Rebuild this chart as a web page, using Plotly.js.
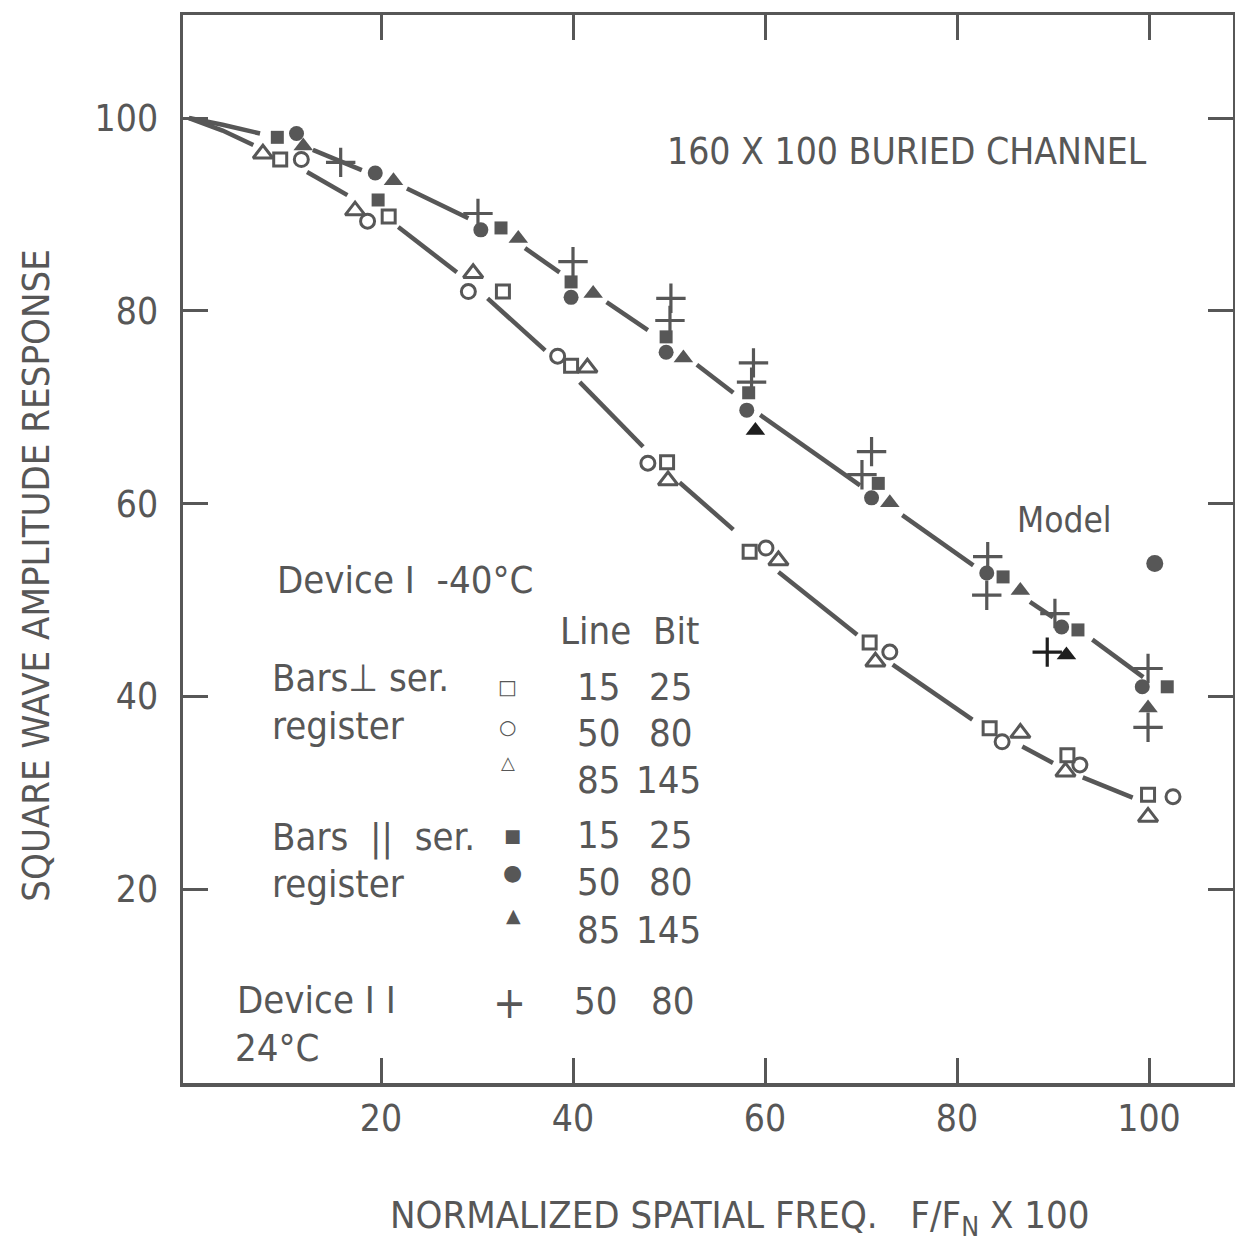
<!DOCTYPE html>
<html>
<head>
<meta charset="utf-8">
<script src="https://cdn.plot.ly/plotly-3.0.1.min.js"></script>
<style>html,body{margin:0;padding:0;background:#fff;}#chart{width:1235px;height:1254px;}</style>
</head>
<body>
<div id="chart"></div>
<script>
// ---- data ----
const xTicks = [20, 40, 60, 80, 100];
const yTicks = [20, 40, 60, 80, 100];

// Bars perpendicular to serial register (open symbols)
const openSquareX = [9.5, 20.8, 32.7, 39.8, 49.8, 58.4, 70.9, 83.4, 91.5, 99.9];
const openSquareY = [95.7, 89.8, 82.0, 74.3, 64.3, 55.0, 45.6, 36.7, 33.9, 29.8];
const openCircleX = [11.7, 18.6, 29.1, 38.4, 47.8, 60.1, 73.0, 84.7, 92.8, 102.5];
const openCircleY = [95.7, 89.3, 82.0, 75.3, 64.2, 55.4, 44.6, 35.3, 32.9, 29.6];
const openTriX = [7.7, 17.3, 29.6, 41.5, 49.9, 61.4, 71.5, 86.6, 91.3, 99.9];
const openTriY = [96.3, 90.4, 83.9, 74.1, 62.4, 54.1, 43.6, 36.2, 32.2, 27.5];

// Bars parallel to serial register (filled symbols)
const fillSquareX = [9.2, 19.7, 32.5, 39.8, 49.7, 58.3, 71.8, 84.8, 92.6, 101.9];
const fillSquareY = [98.0, 91.5, 88.6, 83.0, 77.3, 71.5, 62.1, 52.4, 46.9, 41.0];
const fillCircleX = [11.2, 19.4, 30.4, 39.8, 49.7, 58.1, 71.1, 83.1, 90.9, 99.3];
const fillCircleY = [98.4, 94.3, 88.4, 81.4, 75.7, 69.7, 60.6, 52.8, 47.2, 41.0];
const fillTriX = [11.9, 21.3, 34.3, 42.1, 51.5, 59.0, 73.0, 86.6, 91.4, 99.9];
const fillTriY = [97.1, 93.5, 87.5, 81.8, 75.1, 67.6, 60.1, 51.0, 44.3, 38.8];

// Isolated filled circle next to "Model"
const loneCircleX = [100.6];
const loneCircleY = [53.8];

// Device II, 24 C (plus)
const plusX = [15.8, 30.1, 40.0, 50.2, 50.1, 58.8, 58.6, 71.1, 70.1, 83.2, 83.1, 90.2, 89.4, 99.9, 99.9];
const plusY = [95.4, 90.1, 85.1, 81.3, 79.0, 74.6, 72.6, 65.4, 63.0, 54.5, 50.5, 48.6, 44.6, 42.9, 36.8];

// Model curves (broken where the symbols sit)
const upperCurveX = [0, 3.5, 7.4, null, 12.9, 18.0, null, 22.7, 29.1, null, 35.0, 38.6, null, 43.5, 47.8, null, 52.9, 56.7, null, 59.5, 64.8, 69.9, null, 74.3, 81.7, null, 87.6, 90.0, null, 94.1, 99.4];
const upperCurveY = [100, 99.3, 98.4, null, 96.7, 94.6, null, 92.7, 89.6, null, 86.5, 84.0, null, 80.9, 78.0, null, 74.4, 71.5, null, 69.2, 65.5, 61.9, null, 58.8, 53.6, null, 49.8, 48.2, null, 45.9, 42.0];
const lowerCurveX = [0, 3.5, 6.7, null, 12.3, 16.5, null, 21.8, 27.9, null, 31.1, 37.1, null, 40.7, 47.3, null, 51.1, 56.7, null, 61.4, 69.6, null, 73.3, 81.6, null, 86.8, 90.0, null, 93.1, 98.3];
const lowerCurveY = [100, 98.7, 97.2, null, 94.4, 92.0, null, 88.7, 84.0, null, 81.3, 75.9, null, 72.6, 65.9, null, 62.2, 57.3, null, 52.9, 46.4, null, 43.3, 37.6, null, 34.8, 33.1, null, 31.6, 29.5];

// ---- styling ----
const INK = '#575757';
const DARK = '#1e1e1e';
const FONT = "'DejaVu Sans Condensed', 'Liberation Sans Narrow', 'Liberation Sans', sans-serif";
const SYMFONT = "'DejaVu Sans', sans-serif";
const fillTriColors = fillTriX.map((v, i) => (i === 5 || i === 8) ? DARK : INK);
const plusColors = plusX.map((v, i) => (i === 12) ? DARK : INK);

const curveLine = {color: INK, width: 4.5};
const traces = [
  {x: upperCurveX, y: upperCurveY, mode: 'lines', line: curveLine, connectgaps: false, hoverinfo: 'skip'},
  {x: lowerCurveX, y: lowerCurveY, mode: 'lines', line: curveLine, connectgaps: false, hoverinfo: 'skip'},
  {x: openSquareX, y: openSquareY, mode: 'markers', name: 'Bars \u22a5 15/25',
   marker: {symbol: 'square-open', size: 13, color: INK, line: {width: 3, color: INK}}},
  {x: openCircleX, y: openCircleY, mode: 'markers', name: 'Bars \u22a5 50/80',
   marker: {symbol: 'circle-open', size: 14, color: INK, line: {width: 3, color: INK}}},
  {x: openTriX, y: openTriY, mode: 'markers', name: 'Bars \u22a5 85/145',
   marker: {symbol: 'triangle-up-open', size: 17, color: INK, line: {width: 3, color: INK}}},
  {x: fillSquareX, y: fillSquareY, mode: 'markers', name: 'Bars || 15/25',
   marker: {symbol: 'square', size: 13, color: INK}},
  {x: fillCircleX, y: fillCircleY, mode: 'markers', name: 'Bars || 50/80',
   marker: {symbol: 'circle', size: 15, color: INK}},
  {x: loneCircleX, y: loneCircleY, mode: 'markers', name: 'Model',
   marker: {symbol: 'circle', size: 17, color: INK}},
  {x: fillTriX, y: fillTriY, mode: 'markers', name: 'Bars || 85/145',
   marker: {symbol: 'triangle-up', size: 17, color: fillTriColors}},
  {x: plusX, y: plusY, mode: 'markers', name: 'Device II',
   marker: {symbol: 'cross-thin-open', size: 21, color: plusColors, line: {width: 3.2, color: plusColors}}}
];

function txt(text, x, y, size, anchor, family, weight) {
  return {text: text, x: x, y: y, xref: 'x', yref: 'y', showarrow: false,
          xanchor: anchor || 'left', yanchor: 'middle',
          font: {family: family || FONT, size: size || 38, color: INK, weight: weight || 400}};
}
const LS = 38;
const colSym = 33.2, colLine = 42.7, colBit = 50.2;
const annotations = [
  txt('160 X 100 BURIED CHANNEL', 49.6, 96.5, 37),
  txt('Model', 86.0, 58.3, 35),
  txt('Device I  -40\u00b0C', 9.0, 52.1, LS),
  txt('Line  Bit', 38.4, 46.8, LS),
  txt('Bars\u22a5 ser.', 8.4, 41.9, LS),
  txt('register', 8.4, 36.9, LS),
  txt('Bars  ||  ser.', 8.4, 25.4, LS),
  txt('register', 8.4, 20.5, LS),
  txt('Device I I', 4.8, 8.5, LS),
  txt('24\u00b0C', 4.6, 3.5, LS),
  txt('\u25a1', colSym, 41.0, 20, 'center', SYMFONT, 700),
  txt('\u25cb', colSym, 36.8, 20, 'center', SYMFONT, 700),
  txt('\u25b3', colSym, 33.1, 18, 'center', SYMFONT, 700),
  txt('\u25a0', colSym + 0.5, 25.6, 18, 'center', SYMFONT),
  txt('\u25cf', colSym + 0.5, 21.7, 22, 'center', SYMFONT),
  txt('\u25b2', colSym + 0.6, 17.3, 19, 'center', SYMFONT),
  txt('+', colSym + 0.2, 8.2, 44, 'center'),
  txt('15', colLine, 41.0, LS, 'center'), txt('25', colBit, 41.0, LS, 'center'),
  txt('50', colLine, 36.2, LS, 'center'), txt('80', colBit, 36.2, LS, 'center'),
  txt('85', colLine, 31.3, LS, 'center'), txt('145', colBit - 0.3, 31.3, LS, 'center'),
  txt('15', colLine, 25.6, LS, 'center'), txt('25', colBit, 25.6, LS, 'center'),
  txt('50', colLine, 20.7, LS, 'center'), txt('80', colBit, 20.7, LS, 'center'),
  txt('85', colLine, 15.8, LS, 'center'), txt('145', colBit - 0.3, 15.8, LS, 'center'),
  txt('50', colLine - 0.3, 8.4, LS, 'center'), txt('80', colBit + 0.2, 8.4, LS, 'center'),
  // axis titles
  {text: 'SQUARE WAVE AMPLITUDE RESPONSE', xref: 'paper', yref: 'paper', x: -0.14, y: 0.475,
   textangle: -90, showarrow: false, xanchor: 'center', yanchor: 'middle',
   font: {family: FONT, size: 38, color: INK}},
  {text: 'NORMALIZED SPATIAL FREQ.   F/F<sub>N</sub> X 100', xref: 'paper', yref: 'paper', x: 0.53, y: -0.126,
   showarrow: false, xanchor: 'center', yanchor: 'middle',
   font: {family: FONT, size: 38, color: INK}}
];

const axisCommon = {
  showline: true, linecolor: INK, linewidth: 3.5, mirror: 'ticks',
  ticks: 'inside', ticklen: 25, tickwidth: 3, tickcolor: INK,
  showgrid: false, zeroline: false,
  tickfont: {family: FONT, size: 37, color: INK}
};
const layout = {
  width: 1235, height: 1254,
  margin: {l: 183, r: 2, t: 15, b: 171},
  paper_bgcolor: '#ffffff', plot_bgcolor: '#ffffff',
  showlegend: false,
  xaxis: Object.assign({}, axisCommon, {range: [-0.625, 108.75], tickmode: 'array', tickvals: xTicks, ticktext: xTicks.map(String)}),
  yaxis: Object.assign({}, axisCommon, {range: [-0.1, 110.69], tickmode: 'array', tickvals: yTicks, ticktext: yTicks.map(String), ticklabelstandoff: 14}),
  annotations: annotations
};
Plotly.newPlot('chart', traces, layout, {staticPlot: true, displayModeBar: false});
</script>
</body>
</html>
